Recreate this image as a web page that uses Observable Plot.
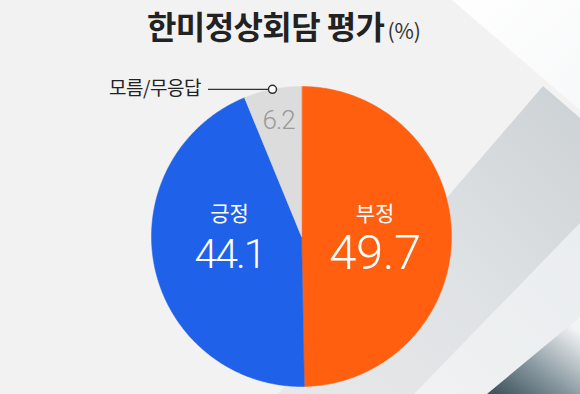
<!DOCTYPE html>
<html><head><meta charset="utf-8">
<script src="https://cdn.jsdelivr.net/npm/d3@7"></script>
<script src="https://cdn.jsdelivr.net/npm/@observablehq/plot@0.6"></script>
<style>
html,body{margin:0;padding:0;background:#f2f2f2;}
#wrap{position:relative;width:580px;height:394px;overflow:hidden;background:#f2f2f2;}
#bg,#chart{position:absolute;left:0;top:0;}
#title{position:absolute;left:147px;top:5px;white-space:nowrap;font-family:"Noto Sans CJK KR",sans-serif;color:#222;line-height:40px;}
#title .main{font-size:32px;font-weight:700;letter-spacing:-0.6px;}
#title .unit{font-size:21px;font-weight:400;margin-left:3px;color:#333;}
</style></head><body>
<div id="wrap">
<svg id="bg" width="580" height="394">
  <defs>
    <linearGradient id="g1" x1="1" y1="0" x2="0" y2="1">
      <stop offset="0" stop-color="#ccd1d5"/><stop offset="0.5" stop-color="#dfe2e4"/><stop offset="1" stop-color="#e7e8ea"/>
    </linearGradient>
    <linearGradient id="g2" x1="0" y1="1" x2="1" y2="0">
      <stop offset="0" stop-color="#eff1f2"/><stop offset="1" stop-color="#eaedef"/>
    </linearGradient>
    <linearGradient id="g3" x1="0.1" y1="1" x2="0.9" y2="0.1">
      <stop offset="0" stop-color="#3f5560"/><stop offset="0.45" stop-color="#8a99a1"/><stop offset="1" stop-color="#f2f4f5"/>
    </linearGradient>
    <linearGradient id="g4" x1="0" y1="0" x2="1" y2="1">
      <stop offset="0" stop-color="#ffffff"/><stop offset="1" stop-color="#f7f8f9"/>
    </linearGradient>
  </defs>
  <polygon points="452,0 580,0 580,110" fill="url(#g4)"/>
  <polygon points="543,86 580,118 580,394 278,394" fill="url(#g1)"/>
  <polygon points="414,394 580,223 580,317 487,394" fill="url(#g2)"/>
  <polygon points="487,394 580,317 580,394" fill="url(#g3)"/>
</svg>
<div id="chart"></div>
<div id="title"><span class="main"></span><span class="unit"></span></div>
</div>
<script>
const title = "한미정상회담 평가";
const unit = "(%)";
const categories = ["부정", "긍정", "모름/무응답"];
const values = [49.7, 44.1, 6.2];
const colors = ["#ff5f0f", "#2061ea", "#dcdcdc"];

document.querySelector("#title .main").textContent = title;
document.querySelector("#title .unit").textContent = unit;

const rows = categories.map((c, i) => ({category: c, value: values[i]}));
const arcs = d3.pie().sort(null).value(d => d.value)(rows);

// polygon outline of each slice (centre + arc), in unit-circle coordinates
const slicePoints = arcs.flatMap(p => {
  const pts = [{category: p.data.category, x: 0, y: 0}];
  const n = Math.max(2, Math.ceil((p.endAngle - p.startAngle) / (Math.PI / 360)));
  for (let k = 0; k <= n; k++) {
    const a = p.startAngle + (p.endAngle - p.startAngle) * k / n;
    pts.push({category: p.data.category, x: Math.sin(a), y: Math.cos(a)});
  }
  return pts;
});

const mid = p => (p.startAngle + p.endAngle) / 2;
const big = arcs.slice(0, 2).map(p => ({
  category: p.data.category,
  label: p.data.value.toFixed(1),
  x: 0.49 * Math.sin(mid(p)),
  main: p.index === 0
}));
const small = arcs.slice(2).map(p => ({
  category: p.data.category,
  label: p.data.value.toFixed(1),
  x: 0.79 * Math.sin(mid(p)), y: 0.79 * Math.cos(mid(p)),
  cx: Math.sin(mid(p)), cy: Math.cos(mid(p))
}));

const chart = Plot.plot({
  width: 580, height: 394,
  margin: 0,
  style: {background: "transparent", overflow: "visible"},
  x: {domain: [-1, 1], range: [151, 451], axis: null},
  y: {domain: [-1, 1], range: [386, 86], axis: null},
  color: {domain: categories, range: colors},
  marks: [
    Plot.line(slicePoints, {x: "x", y: "y", z: "category", fill: "category", stroke: "category", strokeWidth: 0.5, curve: "linear-closed"}),
    Plot.text(big, {x: "x", y: () => 0.15, text: "category", fill: "white", fontSize: 21, fontFamily: "Noto Sans CJK KR"}),
    Plot.text(big.filter(d => !d.main), {x: "x", y: () => -0.12, text: "label", fill: "white", fontSize: 41, fontWeight: 300, fontFamily: "Roboto"}),
    Plot.text(big.filter(d => d.main), {x: "x", y: () => -0.112, text: "label", fill: "white", fontSize: 49, fontWeight: 300, fontFamily: "Roboto"}),
    Plot.text(small, {x: "x", y: "y", text: "label", fill: "#9a9a9a", fontSize: 26, fontWeight: 300, fontFamily: "Roboto"}),
    Plot.link(small, {x1: d => d.cx - 0.43, y1: "cy", x2: "cx", y2: "cy", stroke: "#333", strokeWidth: 1.2}),
    Plot.dot(small, {x: "cx", y: "cy", r: 4, fill: "white", stroke: "#333", strokeWidth: 1.5}),
    Plot.text(small, {x: d => d.cx - 0.43, y: "cy", text: "category", dx: -7, textAnchor: "end", fill: "#222", fontSize: 19, fontFamily: "Noto Sans CJK KR"})
  ]
});
// tighten letter spacing of the numeric labels (condensed look of the original)
const textGroups = chart.querySelectorAll('g[aria-label="text"]');
textGroups[1].style.letterSpacing = "-2px";
textGroups[2].style.letterSpacing = "-0.5px";
textGroups[3].style.letterSpacing = "-1px";
textGroups[4].style.letterSpacing = "-0.5px";
document.getElementById("chart").appendChild(chart);
</script>
</body></html>
